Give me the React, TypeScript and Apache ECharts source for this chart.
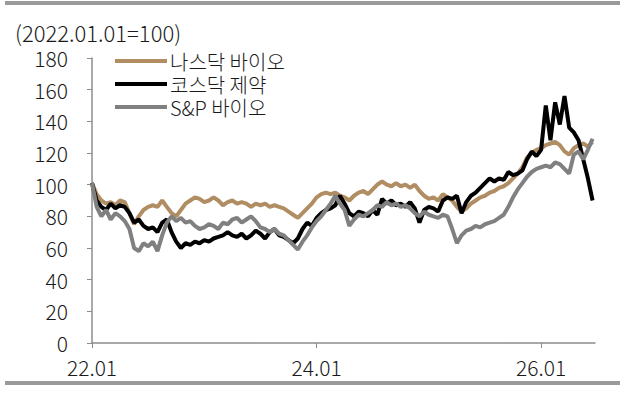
import React, { useEffect, useRef } from "react";
import * as echarts from "echarts";

// x position = years since 2022.01 (half-month steps)
const STEP = 1 / 24;
const xTickYears = [0, 2, 4];
const yTicks = [0, 20, 40, 60, 80, 100, 120, 140, 160, 180];
const seriesNames = ["나스닥 바이오", "코스닥 제약", "S&P 바이오"];
const unitLabel = "(2022.01.01=100)";

const nasdaqBio = [
  101, 94, 90, 88, 89, 87, 90, 89, 82, 75, 80, 84, 86, 87, 86, 90, 86, 82, 80, 84,
  88, 90, 92, 91, 89, 90, 92, 90, 87, 89, 90, 88, 89, 88, 86, 88, 87, 88, 86, 87,
  86, 85, 83, 81, 79, 82, 85, 88, 92, 94, 95, 94, 95, 93, 92, 90, 93, 95, 96, 94,
  97, 100, 102, 100, 99, 101, 99, 100, 98, 100, 96, 93, 91, 92, 90, 94, 92, 90, 86, 83,
  85, 88, 90, 92, 93, 95, 96, 98, 99, 101, 104, 107, 111, 117, 120, 122, 123, 125, 126, 127,
  125, 121, 119, 123, 125, 126, 124, 127,
];
const kosdaqPharma = [
  101, 90, 86, 84, 88, 85, 87, 86, 82, 76, 78, 74, 72, 73, 70, 76, 78, 70, 64, 60,
  63, 62, 64, 63, 65, 64, 66, 67, 68, 70, 68, 67, 69, 66, 68, 71, 69, 66, 70, 72,
  68, 67, 65, 63, 66, 72, 76, 74, 79, 82, 84, 85, 87, 93, 88, 82, 80, 83, 82, 80,
  84, 81, 91, 88, 90, 87, 88, 86, 89, 85, 76, 84, 86, 85, 83, 90, 92, 91, 93, 82,
  89, 93, 95, 98, 101, 104, 102, 104, 103, 108, 106, 107, 109, 116, 121, 118, 122, 150, 128, 152,
  138, 156, 136, 133, 128, 116, 104, 90,
];
const spBio = [
  101, 86, 80, 84, 78, 82, 80, 77, 72, 60, 58, 63, 61, 64, 58, 68, 76, 80, 77, 79,
  76, 77, 74, 72, 73, 75, 74, 72, 76, 75, 78, 79, 76, 78, 80, 77, 73, 72, 70, 72,
  69, 68, 65, 62, 59, 64, 68, 73, 77, 80, 84, 88, 93, 88, 84, 74, 78, 81, 80, 82,
  84, 87, 86, 89, 87, 88, 86, 87, 85, 82, 80, 83, 81, 80, 79, 81, 80, 72, 63, 68,
  71, 72, 74, 73, 75, 76, 77, 79, 81, 86, 92, 97, 101, 105, 108, 110, 111, 112, 111, 114,
  113, 110, 107, 119, 121, 116, 122, 129,
];

const colors = ["#b08d63", "#000000", "#808080"];
const FONT = "'Noto Sans CJK KR', 'Noto Sans', sans-serif";
const TXT = "#1a1a1a";

const toPoints = (arr: number[]) => arr.map((v, i) => [i * STEP, v]);

export default function App() {
  const ref = useRef<HTMLDivElement>(null);
  useEffect(() => {
    if (!ref.current) return;
    const chart = echarts.init(ref.current, null, { renderer: "svg" });
    const all = [nasdaqBio, kosdaqPharma, spBio];
    chart.setOption({
      animation: false,
      textStyle: { fontFamily: FONT },
      title: {
        text: unitLabel,
        left: 15,
        top: 21,
        padding: 0,
        textStyle: { fontFamily: FONT, fontSize: 22, lineHeight: 22, fontWeight: 300, color: TXT },
      },
      legend: {
        orient: "vertical",
        left: 115,
        top: 51,
        padding: 0,
        itemWidth: 52,
        itemHeight: 4,
        itemGap: 3,
        icon: "rect",
        data: seriesNames,
        textStyle: {
          fontFamily: FONT,
          fontSize: 20,
          lineHeight: 19,
          fontWeight: 300,
          color: TXT,
          padding: [0, 0, 0, -2],
        },
      },
      graphic: [
        { type: "rect", shape: { x: 5, y: 1, width: 615, height: 4 }, style: { fill: "#9a9a9a" } },
        { type: "rect", shape: { x: 5, y: 381, width: 615, height: 4 }, style: { fill: "#9a9a9a" } },
      ],
      grid: { left: 92, right: 31, top: 58, bottom: 51 },
      xAxis: {
        type: "value",
        min: 0,
        max: 4.48,
        interval: 2,
        splitLine: { show: false },
        axisLine: { lineStyle: { color: "#8c8c8c", width: 1.5 } },
        axisTick: { show: true, length: 5, customValues: xTickYears, lineStyle: { color: "#8c8c8c" } },
        axisLabel: {
          customValues: xTickYears,
          formatter: (v: number) => `${22 + Math.round(v)}.01`,
          fontFamily: FONT,
          fontSize: 21,
          fontWeight: 300,
          color: TXT,
          margin: 13,
        },
      },
      yAxis: {
        type: "value",
        min: 0,
        max: 180,
        interval: 20,
        splitLine: { show: false },
        axisLine: { show: true, lineStyle: { color: "#8c8c8c", width: 1.5 } },
        axisTick: { show: true, length: 5, lineStyle: { color: "#8c8c8c" } },
        axisLabel: {
          customValues: yTicks,
          fontFamily: FONT,
          fontSize: 21,
          fontWeight: 300,
          color: TXT,
          margin: 24,
        },
      },
      series: seriesNames.map((name, k) => ({
        name,
        type: "line",
        data: toPoints(all[k]),
        showSymbol: false,
        symbol: "none",
        color: colors[k],
        lineStyle: { width: 4, color: colors[k] },
        z: 2 + k,
      })),
    });
    return () => chart.dispose();
  }, []);
  return (
    <div
      ref={ref}
      style={{ position: "fixed", left: 0, top: 0, width: 626, height: 394, background: "#fff" }}
    />
  );
}
